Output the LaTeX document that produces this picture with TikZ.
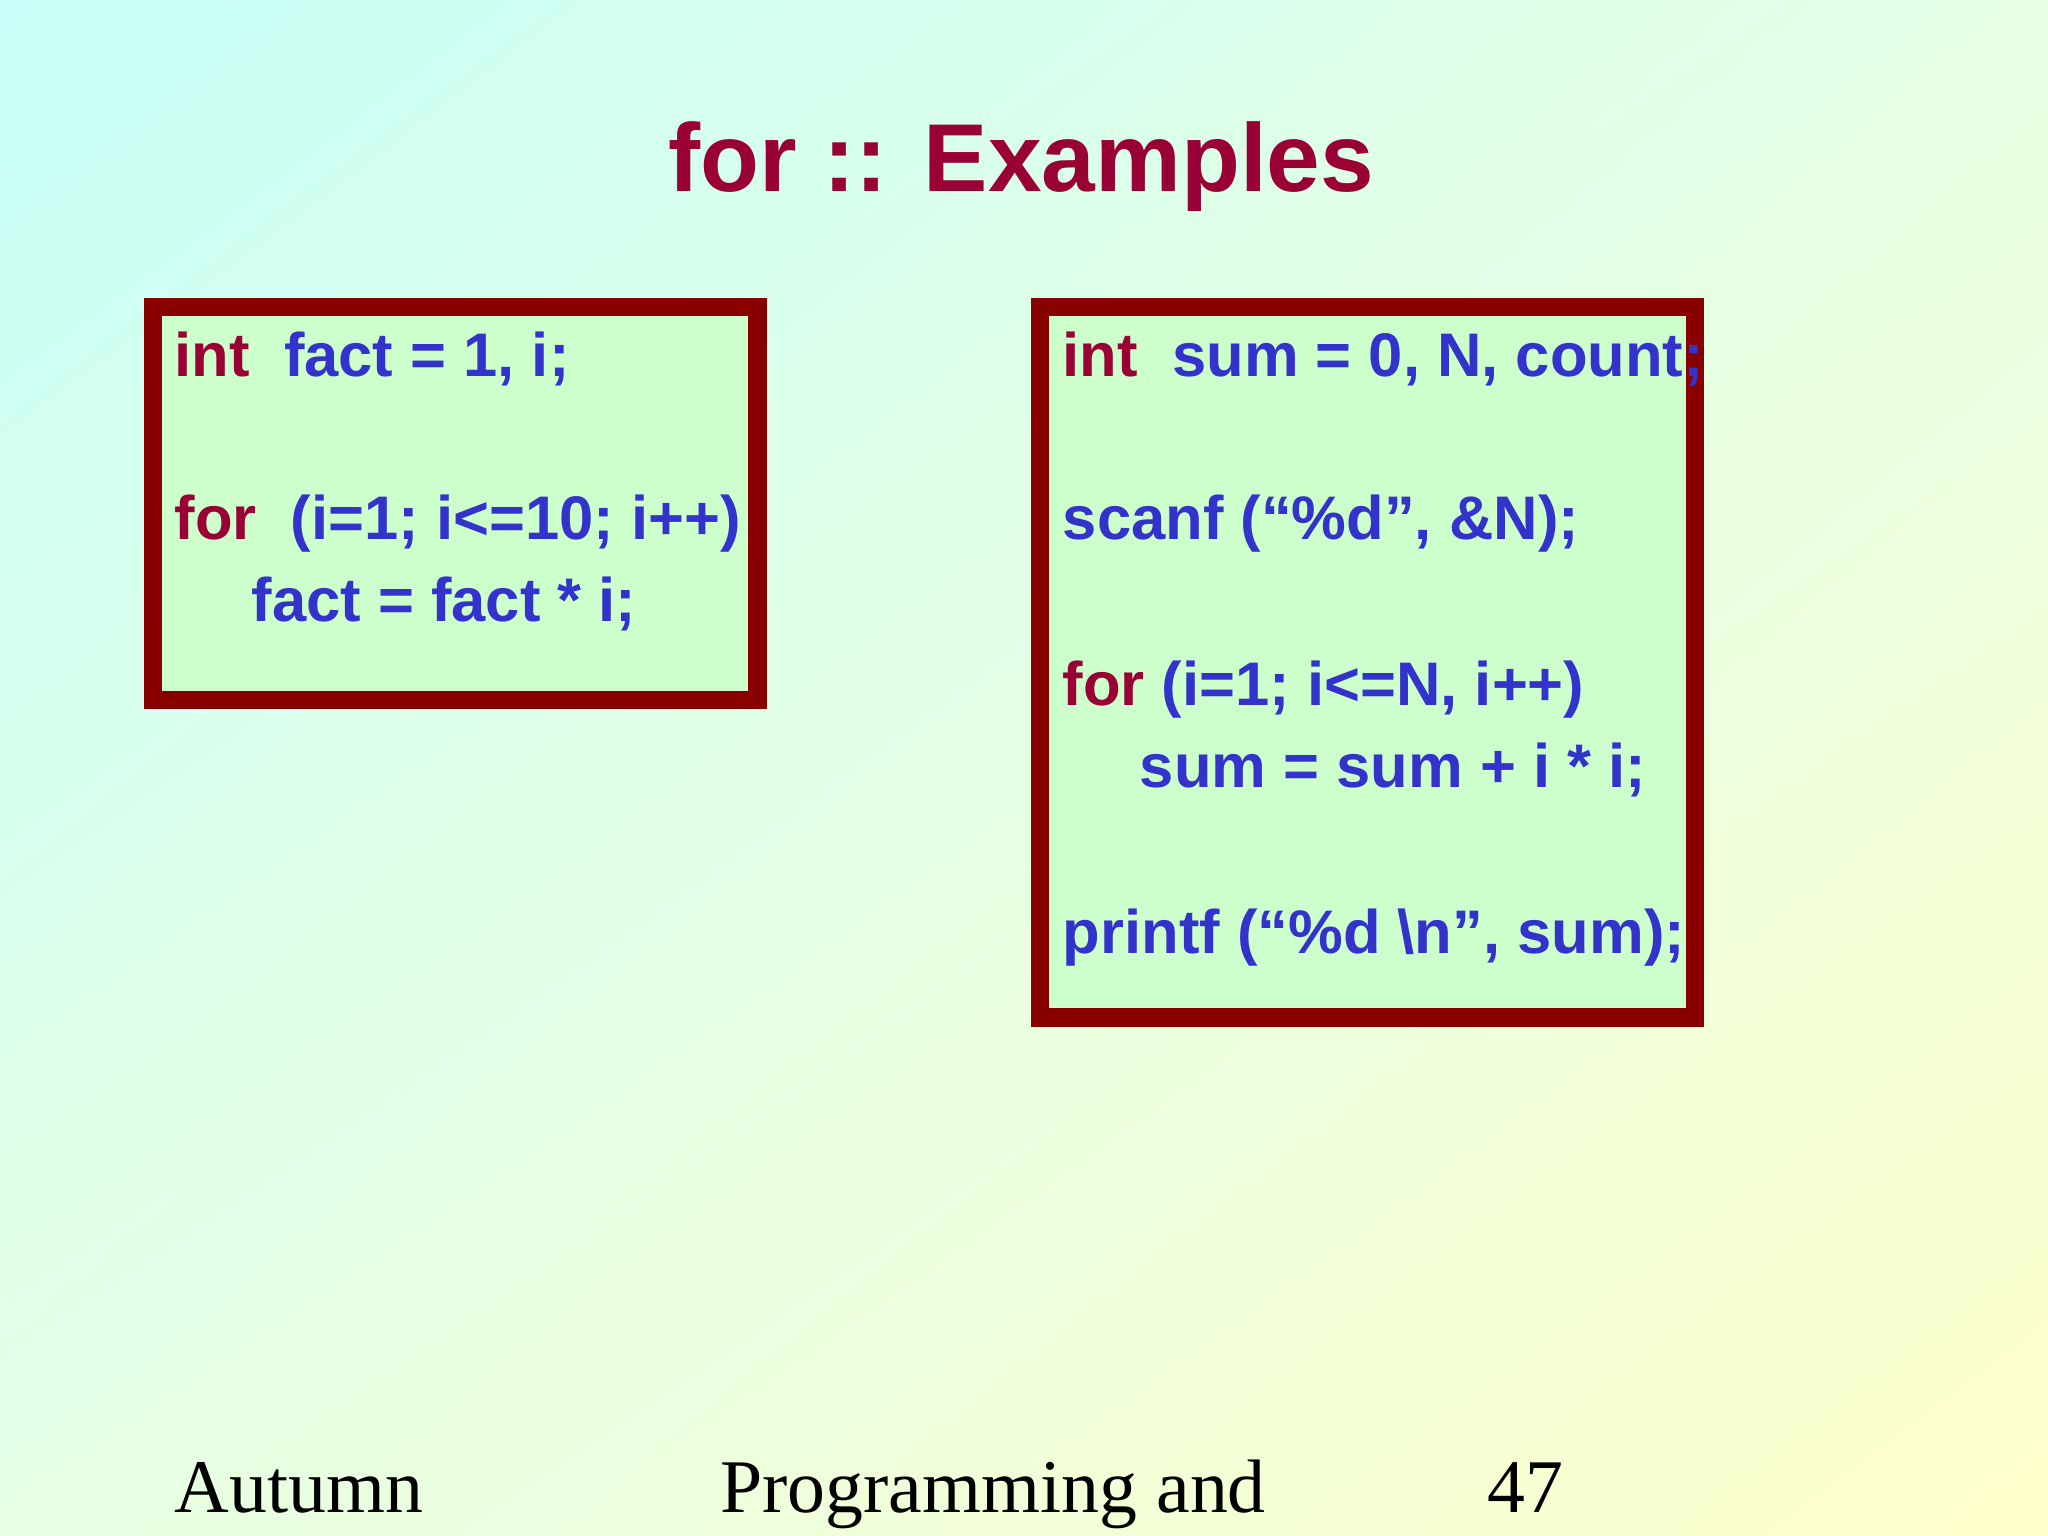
\documentclass[tikz,border=0pt]{standalone}
\usepackage{fontspec}
\usetikzlibrary{shadings}
\setmainfont{Liberation Sans}
\newfontfamily\serif{Liberation Serif}
\definecolor{kw}{HTML}{990033}
\definecolor{cd}{HTML}{3333CC}
\definecolor{bx}{HTML}{880000}
\definecolor{bf}{HTML}{CCFFCC}
\definecolor{bgA}{HTML}{C8FFF8}
\definecolor{bgB}{HTML}{FFFFCC}
\definecolor{bgM}{HTML}{E6FFE4}
\begin{document}
\begin{tikzpicture}[x=0.01cm,y=-0.01cm,
  code/.style={anchor=base west,inner sep=0pt,font=\fontsize{13.4pt}{16pt}\selectfont\bfseries,text=cd},
  codebox/.style={draw=bx,line width=1.4mm,fill=bf},
  foot/.style={anchor=base west,inner sep=0pt,font=\serif\fontsize{16.5pt}{20pt}\selectfont}]
\shade[upper left=bgA,lower right=bgB,upper right=bgM,lower left=bgM]
  (0,0) rectangle (1568,1176);
\useasboundingbox (0,0) rectangle (1568,1176);
\node[anchor=base,inner sep=0pt,text=kw,font=\fontsize{21pt}{25pt}\selectfont\bfseries] (title) at (782,147) {for :: Examples};
\draw[codebox] (117,235) rectangle (580,536);
\draw[codebox] (796,235) rectangle (1298,779);
\node[code] (l1) at (133,288) {\textcolor{kw}{int}\ \ fact = 1, i;};
\node[code] (l2) at (133,413) {\textcolor{kw}{for}\ \ (i=1; i<=10; i++)};
\node[code] (l3) at (192,476) {fact = fact * i;};
\node[code] (r1) at (813,288) {\textcolor{kw}{int}\ \ sum = 0, N, count;};
\node[code] (r2) at (813,413) {scanf (“\%d”, \&N);};
\node[code] (r3) at (813,540) {\textcolor{kw}{for} (i=1; i<=N, i++)};
\node[code] (r4) at (872,603) {sum = sum + i * i;};
\node[code] (r5) at (813,730) {printf (“\%d \textbackslash n”, sum);};
\node[foot] (f1) at (133,1158) {Autumn};
\node[foot] (f2) at (551,1158) {Programming and};
\node[foot] (f3) at (1138,1158) {47};
\end{tikzpicture}
\end{document}
